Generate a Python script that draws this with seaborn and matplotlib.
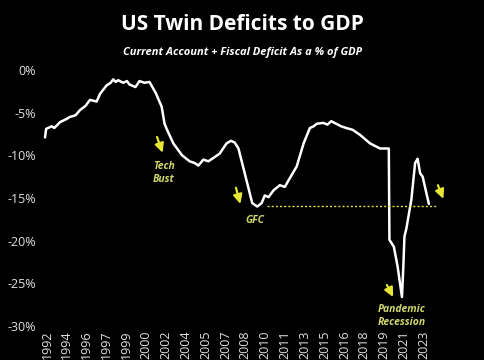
import matplotlib
matplotlib.use("Agg")
import matplotlib.pyplot as plt
import seaborn as sns
import numpy as np
import pandas as pd

years = [1992.76, 1992.85, 1993.3, 1993.5, 1993.97, 1994.4, 1994.76, 1995.2, 1995.55, 1996.0,
         1996.35, 1996.88, 1997.15, 1997.68, 1998.0, 1998.21, 1998.4, 1998.6, 1999.0, 1999.3,
         1999.5, 1999.98, 2000.3, 2000.7, 2001.1, 2001.6, 2002.07, 2002.3, 2002.5, 2003.0,
         2003.7, 2004.3, 2004.7, 2005.0, 2005.4, 2005.8, 2006.2, 2006.7, 2007.25, 2007.6,
         2007.9, 2008.2, 2008.7, 2009.3, 2009.7, 2010.05, 2010.3, 2010.6, 2011.0, 2011.5,
         2011.9, 2012.45, 2012.85, 2013.4, 2013.9, 2014.2, 2014.45, 2014.97, 2015.3, 2015.6,
         2016.0, 2016.4, 2016.8, 2017.3, 2017.9, 2018.3, 2018.7, 2019.1, 2019.5, 2020.2,
         2020.25, 2020.6, 2020.9, 2021.25, 2021.35, 2021.45, 2021.6, 2022.0, 2022.3, 2022.5,
         2022.7, 2022.9, 2023.4]
deficit = [-7.9, -6.9, -6.6, -6.8, -6.1, -5.8, -5.5, -5.3, -4.7, -4.2,
           -3.5, -3.7, -2.8, -1.8, -1.5, -1.1, -1.4, -1.2, -1.5, -1.3,
           -1.7, -2.0, -1.3, -1.5, -1.4, -2.7, -4.3, -6.3, -7.0, -8.6,
           -10.0, -10.7, -10.9, -11.2, -10.5, -10.7, -10.3, -9.8, -8.6, -8.3,
           -8.5, -9.2, -12.1, -15.6, -16.0, -15.6, -14.7, -14.9, -14.1, -13.5,
           -13.7, -12.3, -11.3, -8.6, -6.8, -6.6, -6.3, -6.2, -6.4, -6.0,
           -6.3, -6.6, -6.8, -7.0, -7.6, -8.1, -8.6, -8.9, -9.2, -9.2,
           -19.9, -20.7, -23.0, -26.6, -23.4, -19.5, -18.6, -15.2, -10.9, -10.4,
           -12.1, -12.5, -15.7]

tick_labels = ["1992", "1994", "1996", "1997", "1999", "2000", "2002", "2004", "2005", "2007",
               "2008", "2010", "2011", "2013", "2015", "2016", "2018", "2019", "2021", "2023"]
y_ticks = [0, -5, -10, -15, -20, -25, -30]
gfc_level = -15.9

df = pd.DataFrame({"year": years, "deficit": deficit})

sns.set_theme(style="dark")
plt.rcParams['font.family'] = ['Open Sans', 'DejaVu Sans']

fig = plt.figure(figsize=(4.85, 3.6), dpi=100, facecolor="black")
ax = fig.add_axes([40/485, 0.0944, 435/485, 0.7112])
ax.set_facecolor("black")

sns.lineplot(data=df, x="year", y="deficit", ax=ax, color="white", linewidth=1.8)

ax.plot([2010.48, 2024.04], [gfc_level, gfc_level], color="#e0e040", linestyle=(0, (1.5, 1.5)), linewidth=1.0)

ax.set_xlim(1992.36, 2027.08)
ax.set_ylim(-30, 0)

tick_pos = [1992.92 + k * 19 / 12 for k in range(len(tick_labels))]
ax.set_xticks(tick_pos)
ax.set_xticklabels(tick_labels, rotation=90, color="#e0e0e0", fontsize=9)
ax.set_yticks(y_ticks)
ax.set_yticklabels([f"{v}%" for v in y_ticks], color="#e0e0e0", fontsize=9)
ax.tick_params(axis="both", length=0, pad=3)
ax.set_xlabel("")
ax.set_ylabel("")
ax.grid(False)
for s in ax.spines.values():
    s.set_visible(False)

arrow_col = "#e6e633"
text_col = "#cfd66a"
arr = dict(arrowstyle="-|>,head_length=0.45,head_width=0.22", color=arrow_col, lw=1.6,
           shrinkA=0, shrinkB=0)

def note(x0, y0, x1, y1):
    ax.annotate("", xy=(x1, y1), xytext=(x0, y0), arrowprops=arr)

note(2001.7, -7.85, 2002.15, -9.7)
ax.text(2001.38, -12.1, "Tech\nBust", color=text_col, fontsize=7.5, fontweight="bold",
        fontstyle="italic", ha="left", va="center", linespacing=1.3)
note(2008.0, -13.8, 2008.35, -15.7)
ax.text(2009.55, -17.6, "GFC", color=text_col, fontsize=7.5, fontweight="bold",
        fontstyle="italic", ha="center", va="center")
note(2020.05, -25.2, 2020.55, -26.6)
ax.text(2019.33, -28.8, "Pandemic\nRecession", color=text_col, fontsize=7.5, fontweight="bold",
        fontstyle="italic", ha="left", va="center", linespacing=1.3)
note(2024.12, -13.5, 2024.55, -15.1)

fig.text(0.5, 1 - 24/360, "US Twin Deficits to GDP", color="white", fontsize=15,
         fontweight="bold", ha="center", va="center")
fig.text(0.5, 1 - 52/360, "Current Account + Fiscal Deficit As a % of GDP", color="white",
         fontsize=8, fontweight="bold", fontstyle="italic", ha="center", va="center")

fig.savefig("out.png", dpi=100, facecolor="black")
